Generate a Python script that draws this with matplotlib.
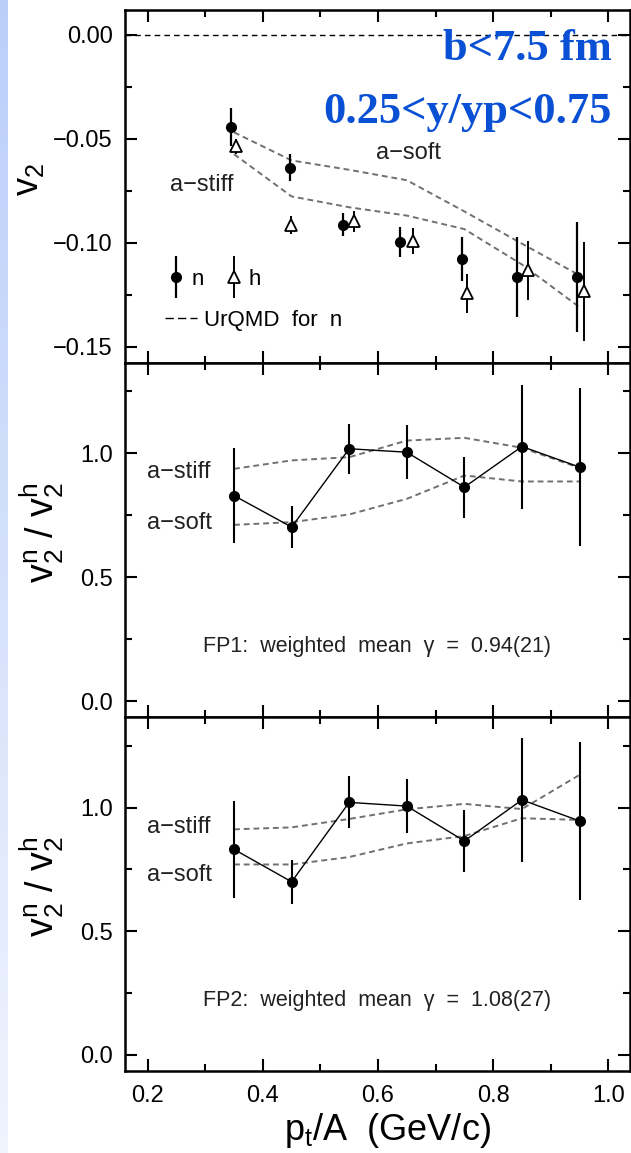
import numpy as np
import matplotlib
matplotlib.use("Agg")
import matplotlib.pyplot as plt
from matplotlib.ticker import MultipleLocator, FixedLocator
from matplotlib.legend_handler import HandlerErrorbar
from matplotlib.container import ErrorbarContainer
from matplotlib.lines import Line2D

plt.rcParams["font.family"] = ["Liberation Sans", "DejaVu Sans"]
plt.rcParams["mathtext.default"] = "regular"

# ---- elliptic flow v2 versus pt/A (neutrons n, hydrogen h) ----
pt_n = [0.345, 0.447, 0.540, 0.638, 0.746, 0.842, 0.945]
v2_n = [-0.0444, -0.0641, -0.0913, -0.0995, -0.1077, -0.1165, -0.1165]
v2_n_err = [0.0090, 0.0065, 0.0056, 0.0072, 0.0106, 0.0190, 0.0264]

pt_h = [0.353, 0.449, 0.559, 0.660, 0.755, 0.860, 0.957]
v2_h = [-0.0536, -0.0915, -0.0897, -0.0993, -0.1243, -0.1133, -0.1234]
v2_h_err = [0.0036, 0.0045, 0.0050, 0.0062, 0.0093, 0.0142, 0.0239]

# UrQMD predictions for neutrons
pt_model = [0.35, 0.45, 0.55, 0.65, 0.75, 0.85, 0.95]
urqmd_soft = [-0.0470, -0.0605, -0.0650, -0.0700, -0.0850, -0.1005, -0.1157]
urqmd_stiff = [-0.0575, -0.0778, -0.0830, -0.0870, -0.0935, -0.1105, -0.1310]

# ---- ratio v2n / v2h for the two FOPI parametrisations ----
pt_ratio = [0.35, 0.45, 0.55, 0.65, 0.75, 0.85, 0.95]
ratio_fp1 = [0.829, 0.702, 1.018, 1.004, 0.863, 1.027, 0.944]
ratio_fp1_err = [0.190, 0.085, 0.100, 0.110, 0.123, 0.250, 0.320]
fp1_stiff = [0.937, 0.971, 0.984, 1.051, 1.062, 1.022, 0.941]
fp1_soft = [0.711, 0.722, 0.753, 0.816, 0.910, 0.886, 0.886]

ratio_fp2 = [0.831, 0.700, 1.021, 1.006, 0.865, 1.031, 0.946]
ratio_fp2_err = [0.196, 0.088, 0.105, 0.110, 0.126, 0.250, 0.320]
fp2_stiff = [0.912, 0.920, 0.954, 0.993, 1.015, 0.994, 1.132]
fp2_soft = [0.770, 0.770, 0.800, 0.855, 0.885, 0.957, 0.950]

v2_ticks = [0.00, -0.05, -0.10, -0.15]
v2_ticklabels = ["0.00", "\u22120.05", "\u22120.10", "\u22120.15"]
ratio_ticks = [0.0, 0.5, 1.0]
ratio_ticklabels = ["0.0", "0.5", "1.0"]
pt_ticks = [0.2, 0.4, 0.6, 0.8, 1.0]
pt_ticklabels = ["0.2", "0.4", "0.6", "0.8", "1.0"]

# ---- figure layout ----
W, H = 631, 1153
fig = plt.figure(figsize=(W / 100, H / 100), dpi=100)
fig.patch.set_facecolor("white")

# light blue slide margin on the left
band = fig.add_axes([0, 0, 7.5 / W, 1])
grad = np.linspace(0, 1, 256)[:, None]
top_c = np.array([0.73, 0.81, 0.98])
bot_c = np.array([0.94, 0.955, 0.99])
band.imshow(top_c + grad[..., None] * (bot_c - top_c), aspect="auto",
            extent=[0, 1, 0, 1])
band.set_axis_off()

left = 125 / W
width = 630 / W - left
edges = [10, 362.7, 717.3, 1071]
axes = []
for i in range(3):
    y0 = 1 - edges[i + 1] / H
    h = (edges[i + 1] - edges[i]) / H
    axes.append(fig.add_axes([left, y0, width, h]))
ax1, ax2, ax3 = axes

GRAY = "#707070"
DASH = (0, (3.0, 2.0))
TICK_FS = 17
TXT = "#222222"

for ax in axes:
    ax.set_xlim(0.1606, 1.0377)
    for sp in ax.spines.values():
        sp.set_linewidth(1.8)
    ax.xaxis.set_major_locator(FixedLocator(pt_ticks))
    ax.xaxis.set_minor_locator(MultipleLocator(0.1))
    ax.tick_params(which="both", direction="in", top=True, right=True,
                   width=1.5, labelsize=TICK_FS)
    ax.tick_params(which="major", length=8.5)
    ax.tick_params(which="minor", length=5)
    ax.tick_params(axis="y", pad=9)
    ax.tick_params(axis="x", pad=10)

# ---- panel 1: v2 ----
ax1.set_ylim(-0.1577, 0.0118)
ax1.set_yticks(v2_ticks)
ax1.set_yticklabels(v2_ticklabels)
ax1.yaxis.set_minor_locator(MultipleLocator(0.025))
ax1.tick_params(axis="x", labelbottom=False)
ax1.axhline(0.0, color="k", lw=1.0, ls=(0, (4, 3)), zorder=1)

ax1.plot(pt_model, urqmd_soft, color=GRAY, lw=1.4, ls=DASH, zorder=2)
ax1.plot(pt_model, urqmd_stiff, color=GRAY, lw=1.4, ls=DASH, zorder=2)

eb_h = ax1.errorbar(pt_h, v2_h, yerr=v2_h_err, fmt="^", ms=9, mfc="white",
                    mec="k", mew=1.3, ecolor="k", elinewidth=1.4, capsize=0,
                    zorder=3, label="h")
eb_n = ax1.errorbar(pt_n, v2_n, yerr=v2_n_err, fmt="o", ms=7, mfc="k",
                    mec="k", ecolor="k", elinewidth=1.6, capsize=0,
                    zorder=4, label="n")

ax1.text(0.597, -0.0571, "a\u2212soft", fontsize=17, ha="left", va="center",
         color=TXT)
ax1.text(0.2382, -0.0723, "a\u2212stiff", fontsize=17, ha="left",
         va="center", color=TXT)

err_handler = HandlerErrorbar(yerr_size=0.95, numpoints=1)
leg1 = ax1.legend([eb_n, eb_h], ["n", "h"], ncol=2, loc="center left",
                  bbox_to_anchor=(0.2344, -0.1175),
                  bbox_transform=ax1.transData, frameon=False, borderpad=0,
                  borderaxespad=0, handlelength=0.8, handletextpad=0.27,
                  columnspacing=0.96, fontsize=16,
                  handler_map={ErrorbarContainer: err_handler})
ax1.add_artist(leg1)
ax1.legend([Line2D([], [], color="k", lw=1.0, ls=(0, (6, 3)))],
           ["UrQMD  for  n"], loc="center left",
           bbox_to_anchor=(0.2295, -0.1372), bbox_transform=ax1.transData,
           frameon=False, borderpad=0, borderaxespad=0, handlelength=1.45,
           handletextpad=0.3, fontsize=16)

ax1.set_ylabel("v$_2$", fontsize=26, va="center")
ax1.yaxis.set_label_coords(-0.192, 0.52)

# ---- panels 2 and 3: v2n / v2h ----
panels = [
    (ax2, ratio_fp1, ratio_fp1_err, fp1_stiff, fp1_soft,
     "FP1:  weighted  mean  \u03b3  =  0.94(21)", (0.924, 0.719)),
    (ax3, ratio_fp2, ratio_fp2_err, fp2_stiff, fp2_soft,
     "FP2:  weighted  mean  \u03b3  =  1.08(27)", (0.923, 0.727)),
]
for ax, r, rerr, stiff, soft, note, lab_y in panels:
    ax.set_ylim(-0.065, 1.365)
    ax.set_yticks(ratio_ticks)
    ax.set_yticklabels(ratio_ticklabels)
    ax.yaxis.set_minor_locator(MultipleLocator(0.25))
    ax.plot(pt_ratio, stiff, color=GRAY, lw=1.4, ls=DASH, zorder=2)
    ax.plot(pt_ratio, soft, color=GRAY, lw=1.4, ls=DASH, zorder=2)
    ax.errorbar(pt_ratio, r, yerr=rerr, fmt="o-", color="k", lw=1.0, ms=7,
                elinewidth=1.5, capsize=0, zorder=4)
    ax.text(0.199, lab_y[0], "a\u2212stiff", fontsize=17, ha="left",
            va="center", color=TXT)
    ax.text(0.199, lab_y[1], "a\u2212soft", fontsize=17, ha="left",
            va="center", color=TXT)
    ax.text(0.296, 0.22, note, fontsize=15.5, ha="left", va="center",
            color=TXT)
    ax.set_ylabel("v$_2^n$ / v$_2^h$", fontsize=27, va="center")
    ax.yaxis.set_label_coords(-0.165, 0.52)

ax2.tick_params(axis="x", labelbottom=False)
ax3.set_xticks(pt_ticks)
ax3.set_xticklabels(pt_ticklabels)
ax3.set_xlabel("p$_t$/A  (GeV/c)", fontsize=26, va="center")
ax3.xaxis.set_label_coords(0.52, -0.168)

# ---- selection cuts ----
BLUE = "#0a50d4"
cut_font = dict(family=["Liberation Serif", "DejaVu Serif"], weight="bold",
                fontsize=32, color=BLUE, ha="right", va="baseline")
fig.text(612 / W, 1 - 60 / H, "b<7.5 fm", **cut_font)
fig.text(612 / W, 1 - 123 / H, "0.25<y/yp<0.75", **cut_font)

fig.savefig("out.png", dpi=100, facecolor="white")
